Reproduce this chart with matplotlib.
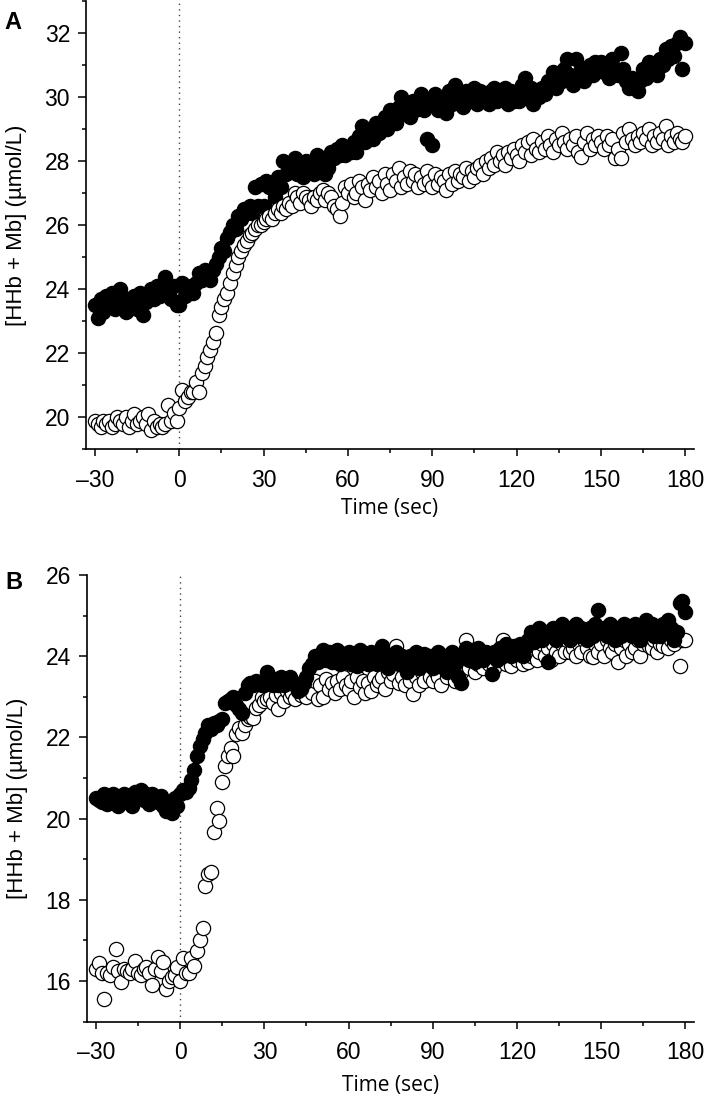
import numpy as np
import matplotlib
matplotlib.use('Agg')
import matplotlib.pyplot as plt
from matplotlib.ticker import MultipleLocator

# ── time axis: one sample per second ──
t_start, t_end = -30, 180

# ── Panel A: closed circles (upper trace) ──
a_closed = [
    23.5, 23.1, 23.7, 23.3, 23.8, 23.5, 23.9, 23.4, 23.6, 24.0,   # -30..-21
    23.5, 23.3, 23.7, 23.5, 23.8, 23.4, 23.9, 23.2, 23.6, 23.8,   # -20..-11
    24.0, 23.7, 24.1, 23.8, 23.9, 24.4, 24.0, 23.7, 24.1, 23.5,   # -10..-1
    23.5, 24.2, 23.8, 24.0, 24.1, 23.9, 24.2, 24.5, 24.3, 24.6,   # 0..9
    24.5, 24.3, 24.6, 24.8, 25.0, 25.3, 25.2, 25.6, 25.8, 26.0,   # 10..19
    25.9, 26.3, 26.2, 26.5, 26.4, 26.6, 26.4, 27.2, 26.6, 27.3,   # 20..29
    26.6, 27.4, 27.2, 27.3, 26.9, 27.5, 27.2, 28.0, 27.6, 27.9,   # 30..39
    27.7, 28.1, 27.6, 27.8, 27.5, 28.0, 26.9, 27.8, 27.6, 28.2,   # 40..49
    27.9, 28.0, 27.6, 27.8, 28.3, 28.1, 28.4, 28.2, 28.5, 28.2,   # 50..59
    28.4, 28.3, 28.6, 28.3, 28.8, 29.1, 28.6, 28.9, 29.0, 28.7,   # 60..69
    29.2, 28.9, 29.1, 29.4, 29.0, 29.6, 29.3, 29.2, 29.7, 30.0,   # 70..79
    29.5, 29.8, 29.4, 29.9, 29.6, 29.9, 30.1, 29.6, 28.7, 29.8,   # 80..89
    28.5, 30.1, 29.6, 29.9, 30.0, 29.5, 30.2, 29.8, 30.4, 29.9,   # 90..99
    30.1, 29.7, 30.2, 29.9, 30.0, 30.3, 29.8, 30.2, 30.0, 30.1,   # 100..109
    29.8, 30.2, 30.3, 29.9, 30.1, 30.0, 30.3, 29.8, 30.2, 29.9,   # 110..119
    30.1, 29.9, 30.4, 30.6, 30.0, 30.3, 29.8, 30.2, 30.0, 30.3,   # 120..129
    30.1, 30.5, 30.4, 30.8, 30.3, 30.6, 30.5, 30.9, 31.2, 30.7,   # 130..139
    30.4, 31.2, 30.6, 30.9, 30.5, 30.8, 31.0, 30.7, 31.1, 30.9,   # 140..149
    31.1, 30.8, 31.0, 30.6, 31.2, 30.9, 30.7, 31.4, 30.9, 30.5,   # 150..159
    30.3, 30.6, 30.4, 30.2, 30.5, 30.9, 30.6, 31.1, 30.8, 31.0,   # 160..169
    30.7, 31.2, 31.0, 31.5, 31.2, 31.6, 31.3, 31.7, 31.9, 30.9,   # 170..179
    31.7,                                                         # 180
]

# ── Panel A: open circles (lower trace) ──
a_open = [
    19.9, 19.8, 19.7, 19.9, 19.8, 19.9, 19.7, 19.8, 20.0, 19.9,
    19.8, 20.0, 19.7, 19.9, 20.1, 19.8, 19.9, 20.0, 19.8, 20.1,
    19.6, 19.9, 19.7, 19.8, 19.7, 19.8, 20.4, 19.9, 20.15, 19.9,
    20.3, 20.85, 20.5, 20.65, 20.8, 20.8, 21.1, 20.8, 21.4, 21.6,
    21.9, 22.1, 22.35, 22.65, 23.2, 23.45, 23.7, 23.9, 24.2, 24.5,
    24.75, 25.0, 25.2, 25.4, 25.5, 25.7, 25.75, 25.9, 26.0, 26.0,
    26.1, 26.2, 26.3, 26.2, 26.4, 26.5, 26.4, 26.6, 26.5, 26.7,
    26.6, 27.0, 26.9, 26.7, 27.0, 26.9, 26.8, 26.6, 26.9, 26.8,
    27.0, 27.1, 26.8, 27.0, 26.9, 26.6, 26.5, 26.3, 26.7, 27.2,
    27.0, 27.3, 26.9, 27.0, 27.4, 27.2, 26.8, 27.3, 27.1, 27.5,
    27.2, 27.4, 27.0, 27.6, 27.3, 27.1, 27.6, 27.4, 27.8, 27.2,
    27.5, 27.3, 27.7, 27.4, 27.6, 27.2, 27.5, 27.3, 27.7, 27.4,
    27.2, 27.6, 27.3, 27.5, 27.4, 27.1, 27.6, 27.3, 27.7, 27.4,
    27.6, 27.5, 27.8, 27.4, 27.7, 27.5, 27.8, 27.9, 27.6, 28.0,
    27.8, 28.1, 27.9, 28.3, 28.0, 28.2, 27.9, 28.3, 28.1, 28.4,
    28.2, 28.0, 28.5, 28.3, 28.6, 28.2, 28.7, 28.4, 28.3, 28.6,
    28.4, 28.8, 28.5, 28.3, 28.7, 28.5, 28.9, 28.6, 28.4, 28.7,
    28.5, 28.8, 28.3, 28.15, 28.6, 28.9, 28.4, 28.7, 28.5, 28.8,
    28.6, 28.4, 28.8, 28.5, 28.7, 28.1, 28.4, 28.1, 28.9, 28.6,
    29.0, 28.7, 28.5, 28.8, 28.6, 28.9, 28.7, 29.0, 28.5, 28.8,
    28.6, 28.9, 28.7, 29.1, 28.5, 28.8, 28.6, 28.9, 28.7, 28.6,
    28.8,
]

# ── Panel B: closed circles ──
b_closed = [
    20.5, 20.45, 20.4, 20.6, 20.35, 20.5, 20.6, 20.4, 20.3, 20.5,
    20.6, 20.4, 20.55, 20.3, 20.65, 20.5, 20.7, 20.45, 20.6, 20.35,
    20.6, 20.5, 20.4, 20.55, 20.3, 20.2, 20.4, 20.15, 20.5, 20.3,
    20.6, 20.7, 20.65, 20.75, 20.95, 21.2, 21.55, 21.8, 21.95, 22.1,
    22.3, 22.2, 22.35, 22.3, 22.4, 22.45, 22.86, 22.9, 22.95, 23.0,
    22.8, 22.7, 22.6, 23.1, 23.3, 23.35, 23.3, 23.4, 23.35, 23.3,
    23.3, 23.6, 23.4, 23.3, 23.45, 23.3, 23.5, 23.3, 23.4, 23.5,
    23.4, 23.3, 23.15, 23.2, 23.35, 23.5, 23.7, 23.8, 24.0, 23.85,
    24.0, 24.15, 23.9, 24.1, 23.85, 24.0, 24.15, 23.8, 24.05, 23.9,
    24.1, 23.8, 24.0, 23.75, 24.15, 23.9, 24.05, 23.8, 24.1, 23.95,
    23.8, 24.1, 24.25, 23.9, 23.7, 24.0, 23.85, 24.1, 23.8, 24.0,
    23.9, 23.6, 24.0, 23.8, 24.1, 23.7, 23.9, 24.05, 23.8, 24.0,
    23.7, 23.9, 24.1, 23.8, 24.0, 23.6, 23.9, 24.1, 23.8, 23.5,
    23.35, 24.0, 24.2, 23.9, 24.1, 23.85, 24.2, 24.0, 23.9, 24.1,
    24.0, 23.55, 24.1, 23.9, 24.2, 24.0, 24.3, 24.1, 24.0, 24.25,
    24.1, 24.3, 24.0, 24.2, 24.4, 24.6, 24.35, 24.5, 24.7, 24.4,
    24.6, 23.85, 24.5, 24.7, 24.4, 24.6, 24.8, 24.5, 24.7, 24.4,
    24.6, 24.8, 24.5, 24.7, 24.6, 24.4, 24.7, 24.5, 24.8, 25.15,
    24.6, 24.7, 24.5, 24.8, 24.6, 24.4, 24.7, 24.5, 24.8, 24.6,
    24.7, 24.5, 24.8, 24.6, 24.4, 24.7, 24.9, 24.6, 24.8, 24.5,
    24.7, 24.5, 24.8, 24.6, 24.9, 24.7, 24.4, 24.6, 25.3, 25.35,
    25.1,
]

# ── Panel B: open circles ──
b_open = [
    16.3, 16.45, 16.2, 15.55, 16.2, 16.15, 16.35, 16.8, 16.25, 15.97,
    16.3, 16.25, 16.2, 16.3, 16.5, 16.2, 16.15, 16.3, 16.35, 16.2,
    15.9, 16.3, 16.6, 16.25, 16.47, 15.8, 16.0, 16.1, 16.15, 16.35,
    16.0, 16.58, 16.2, 16.2, 16.58, 16.37, 16.75, 17.0, 17.3, 18.35,
    18.63, 18.68, 19.66, 20.27, 19.95, 20.9, 21.3, 21.55, 21.75, 21.55,
    22.08, 22.24, 22.1, 22.3, 22.45, 22.5, 22.49, 22.73, 22.8, 23.0,
    22.9, 22.95, 23.0, 22.85, 23.05, 22.7, 23.1, 22.9, 23.15, 23.0,
    23.1, 22.95, 23.2, 23.05, 23.2, 23.0, 23.25, 23.1, 23.4, 22.95,
    23.3, 23.0, 23.45, 23.2, 23.35, 23.1, 23.4, 23.2, 23.48, 23.3,
    23.2, 23.4, 23.0, 23.5, 23.25, 23.4, 23.1, 23.35, 23.15, 23.5,
    23.3, 23.38, 23.5, 23.2, 23.6, 23.4, 23.55, 24.25, 23.35, 23.5,
    23.3, 23.6, 23.4, 23.08, 23.5, 23.3, 23.6, 23.4, 23.7, 23.5,
    23.4, 23.6, 23.5, 23.3, 23.7, 23.5, 23.8, 23.6, 23.4, 23.7,
    23.6, 23.8, 24.4, 23.7, 23.9, 23.6, 23.8, 24.0, 23.7, 23.9,
    23.8, 24.0, 23.7, 24.1, 23.9, 24.4, 23.8, 24.0, 23.75, 24.1,
    23.9, 24.1, 23.8, 24.2, 23.85, 24.0, 24.2, 23.9, 24.1, 24.3,
    24.0, 24.2, 23.9, 24.3, 24.1, 24.0, 24.3, 24.1, 24.4, 24.1,
    24.2, 24.0, 24.3, 24.1, 24.4, 24.2, 24.0, 23.97, 24.3, 24.1,
    24.3, 24.0, 24.4, 24.2, 24.1, 24.3, 23.85, 24.2, 24.4, 24.0,
    24.3, 24.1, 24.2, 24.4, 24.0, 24.3, 24.5, 24.25, 24.2, 24.4,
    24.1, 24.3, 24.25, 24.5, 24.2, 24.4, 24.3, 24.5, 23.75, 24.4,
    24.4,
]

x_ticks = [-30, 0, 30, 60, 90, 120, 150, 180]
x_tick_labels = ['\u201330', '0', '30', '60', '90', '120', '150', '180']
a_yticks = [20, 22, 24, 26, 28, 30, 32]
b_yticks = [16, 18, 20, 22, 24, 26]

time = np.arange(t_start, t_end + 1)

W, H = 709, 1099
fig = plt.figure(figsize=(W / 100, H / 100), dpi=100)
fig.patch.set_facecolor('white')

tick_font = 'Liberation Sans'


def px_axes(left, top, right, bottom):
    return [left / W, 1 - bottom / H, (right - left) / W, (bottom - top) / H]


def style_ax(ax, ylim, yticks, xlabel_y):
    ax.set_xlim(-33.2, 183.1)
    ax.set_ylim(*ylim)
    for s in ['top', 'right']:
        ax.spines[s].set_visible(False)
    for s in ['left', 'bottom']:
        ax.spines[s].set_linewidth(1.2)
    ax.set_xticks(x_ticks)
    ax.set_xticklabels(x_tick_labels, fontsize=16.5, family=tick_font)
    ax.set_yticks(yticks)
    ax.set_yticklabels([str(v) for v in yticks], fontsize=16.5, family=tick_font)
    ax.xaxis.set_minor_locator(MultipleLocator(15))
    ax.yaxis.set_minor_locator(MultipleLocator(1))
    ax.tick_params(axis='x', which='major', direction='out', length=5, width=1.1, pad=9)
    ax.tick_params(axis='x', which='minor', direction='out', length=3, width=1.1)
    ax.tick_params(axis='y', which='major', direction='out', length=5.5, width=1.1, pad=6)
    ax.tick_params(axis='y', which='minor', direction='out', length=3, width=1.1)
    ax.axvline(0, color='#444444', lw=1.0, ls=(0, (1, 3)), zorder=1)
    ax.set_xlabel('Time (sec)', fontsize=15, family='Open Sans', va='center')
    ax.xaxis.set_label_coords(0.5, xlabel_y)
    ax.set_ylabel('[HHb + Mb] (\u00b5mol/L)', fontsize=16, family=tick_font, va='center')
    ax.yaxis.set_label_coords(-0.114, 0.5)


marker_kw = dict(s=105, linewidths=0.9, edgecolors='black')

# ── A ──
axA = fig.add_axes(px_axes(86, 1.3, 694, 449.3))
style_ax(axA, (19, 33), a_yticks, -0.133)
axA.scatter(time, a_closed, c='black', zorder=3, **marker_kw)
axA.scatter(time, a_open, c='white', zorder=4, **marker_kw)
fig.text(4 / W, 1 - 11 / H, 'A', fontsize=17, fontweight='bold', family=tick_font, va='top', ha='left')

# ── B ──
axB = fig.add_axes(px_axes(87, 575, 694, 1021.7))
style_ax(axB, (15, 26), b_yticks, -0.142)
axB.scatter(time, b_open, c='white', zorder=3, **marker_kw)
axB.scatter(time, b_closed, c='black', zorder=4, **marker_kw)
fig.text(5 / W, 1 - 571 / H, 'B', fontsize=17, fontweight='bold', family=tick_font, va='top', ha='left')

plt.savefig('out.png', dpi=100, facecolor='white')
